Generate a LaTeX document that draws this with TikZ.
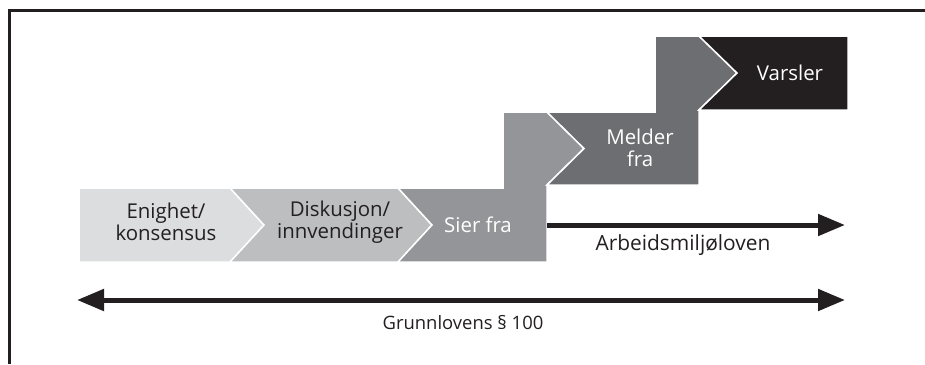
\documentclass[tikz,border=0pt]{standalone}
\usepackage{fontspec}
\setmainfont{Open Sans}
\usetikzlibrary{arrows.meta}
\definecolor{ink}{HTML}{231F20}
\definecolor{cA}{HTML}{DCDDDF}
\definecolor{cB}{HTML}{BCBEC0}
\definecolor{cC}{HTML}{939598}
\definecolor{cD}{HTML}{6D6E71}
\definecolor{cE}{HTML}{231F20}
\tikzset{
  stage/.style={draw=white, line width=1.5bp},
  lbl/.style={font=\fontsize{20.5}{22}\selectfont, align=center, inner sep=0pt},
  law/.style={ink, line width=5bp},
  lawtip/.tip={Triangle[length=27bp,width=21bp]}
}
\begin{document}
\begin{tikzpicture}[x=1bp,y=-1bp]
\useasboundingbox (0,0) rectangle (925,364);
% frame
\draw[ink, line width=2.8bp] (9.5,364) -- (9.5,10.5) -- (925,10.5);
% stages
\fill[cA, stage] (79,188) -- (230,188) -- (264,225) -- (230,262) -- (79,262) -- cycle;
\fill[cB, stage] (230,188) -- (398,188) -- (432,225) -- (398,262) -- (230,262) -- (264,225) -- cycle;
\fill[cC, stage] (398,188) -- (503,188) -- (503,112) -- (547,112) -- (584,148.5) -- (547,185) -- (547,262) -- (398,262) -- (432,225) -- cycle;
\fill[cD, stage] (547,112) -- (655,112) -- (655,36) -- (699,36) -- (737,73) -- (699,110) -- (699,185) -- (547,185) -- (584,148.5) -- cycle;
\fill[cE, stage] (699,36) -- (848,36) -- (848,110) -- (699,110) -- (737,73) -- cycle;
% labels
\node[lbl, text=ink] (enig) at (166,222) {Enighet/\\konsensus};
\node[lbl, text=ink] (disk) at (340,222) {Diskusjon/\\innvendinger};
\node[lbl, text=white] (sier) at (478,225) {Sier fra};
\node[lbl, text=white] (meld) at (640,148) {Melder\\fra};
\node[lbl, text=white] (vars) at (790,73) {Varsler};
% arrows
\coordinate (amlA) at (547,225);
\coordinate (amlB) at (845,225);
\draw[law, -lawtip] (amlA) -- (amlB);
\node[lbl, text=ink, font=\fontsize{21}{22}\selectfont] (aml) at (683,245) {Arbeidsmiljøloven};
\coordinate (grA) at (77,300);
\coordinate (grB) at (845,300);
\draw[law, lawtip-lawtip] (grA) -- (grB);
\node[lbl, text=ink, font=\fontsize{18.5}{20}\selectfont] (gr) at (463,323) {Grunnlovens § 100};
\end{tikzpicture}
\end{document}
